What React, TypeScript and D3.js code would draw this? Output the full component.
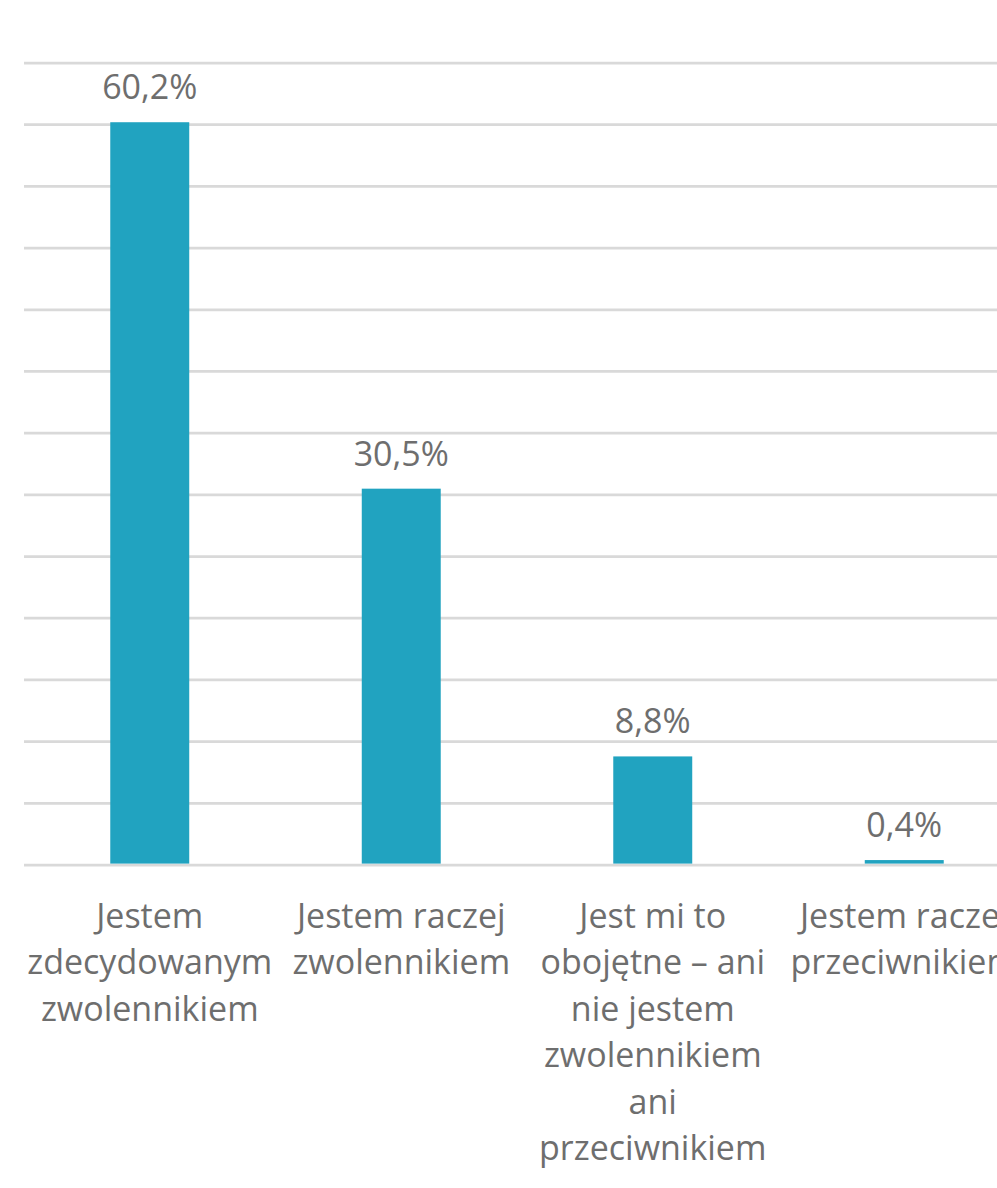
import { useRef, useEffect } from 'react';
import * as d3 from 'd3';

const categories = ['c1', 'c2', 'c3', 'c4'];
const labelLines = [
  ['Jestem', 'zdecydowanym', 'zwolennikiem'],
  ['Jestem raczej', 'zwolennikiem'],
  ['Jest mi to', 'obojętne – ani', 'nie jestem', 'zwolennikiem', 'ani', 'przeciwnikiem'],
  ['Jestem raczej', 'przeciwnikiem'],
];
const values = [60.2, 30.5, 8.8, 0.4];
const valueLabels = ['60,2%', '30,5%', '8,8%', '0,4%'];
const gridTicks = d3.range(0, 66, 5);

const width = 997;
const height = 1188;
const font = '"Open Sans", sans-serif';
const textColor = '#6e6e6e';

export default function App() {
  const ref = useRef<SVGSVGElement>(null);

  useEffect(() => {
    if (!ref.current) return;
    const svg = d3.select(ref.current);
    svg.selectAll('*').remove();

    const x = d3
      .scaleBand()
      .domain(categories)
      .range([24, 1030])
      .paddingInner(0.686)
      .paddingOuter(0.343);

    const y = d3.scaleLinear().domain([0, 65]).range([865, 63]);

    // gridlines
    svg
      .append('g')
      .selectAll('line')
      .data(gridTicks)
      .enter()
      .append('line')
      .attr('x1', 24)
      .attr('x2', 1030)
      .attr('y1', (d) => y(d))
      .attr('y2', (d) => y(d))
      .attr('stroke', '#d9d9d9')
      .attr('stroke-width', 2.75);

    const data = categories.map((c, i) => ({ c, v: values[i], label: valueLabels[i], lines: labelLines[i] }));

    // bars
    svg
      .append('g')
      .selectAll('rect')
      .data(data)
      .enter()
      .append('rect')
      .attr('x', (d) => x(d.c)!)
      .attr('y', (d) => y(d.v))
      .attr('width', x.bandwidth())
      .attr('height', (d) => y(0) - y(d.v) - 1.4)
      .attr('fill', '#21a3c0');

    // value labels
    svg
      .append('g')
      .selectAll('text')
      .data(data)
      .enter()
      .append('text')
      .attr('x', (d) => x(d.c)! + x.bandwidth() / 2)
      .attr('y', (d) => y(d.v) - 23)
      .attr('text-anchor', 'middle')
      .attr('font-family', font)
      .attr('font-size', 34)
      .attr('fill', textColor)
      .text((d) => d.label);

    // category labels
    const cat = svg
      .append('g')
      .selectAll('text')
      .data(data)
      .enter()
      .append('text')
      .attr('text-anchor', 'middle')
      .attr('font-family', font)
      .attr('font-size', 34)
      .attr('fill', textColor);

    cat
      .selectAll('tspan')
      .data((d) => d.lines.map((l) => ({ l, cx: x(d.c)! + x.bandwidth() / 2 })))
      .enter()
      .append('tspan')
      .attr('x', (d) => d.cx)
      .attr('y', (_, i) => 928 + i * 46.4)
      .text((d) => d.l);
  }, []);

  return (
    <svg
      ref={ref}
      width={width}
      height={height}
      style={{ position: 'absolute', left: 0, top: 0, background: '#fff' }}
    />
  );
}
